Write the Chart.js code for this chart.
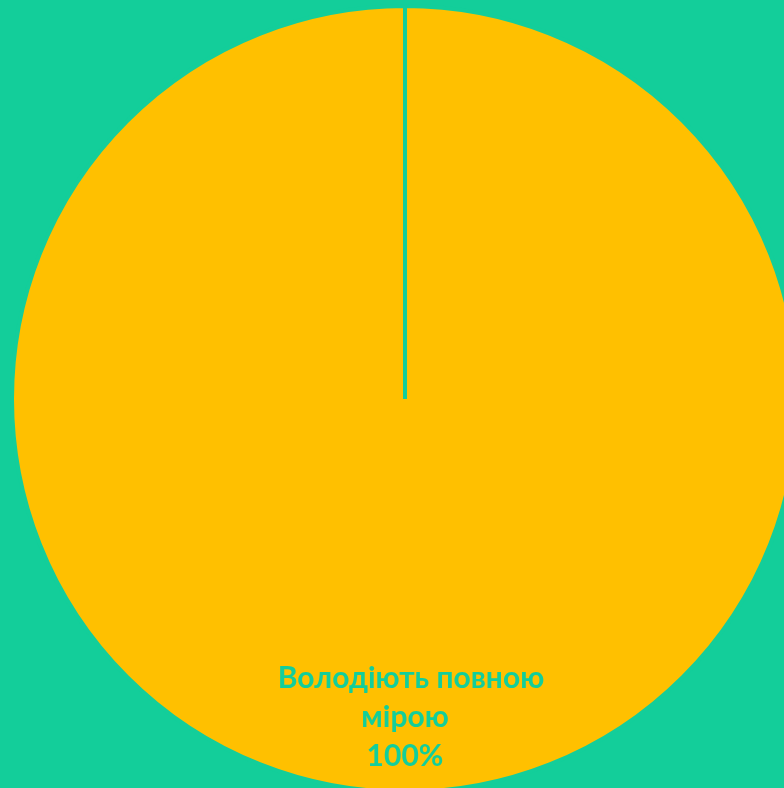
<!DOCTYPE html>
<html>
<head>
<meta charset="utf-8">
<script src="https://cdn.jsdelivr.net/npm/chart.js@4"></script>
<style>
  html, body { margin: 0; padding: 0; width: 784px; height: 788px; overflow: hidden; background: #13CE9A; }
  #wrap { position: absolute; left: 10px; top: 4px; width: 790px; height: 790px; }
</style>
</head>
<body>
<div id="wrap"><canvas id="pie"></canvas></div>
<script>
// Дані діаграми
const categories = ['Володіють повною мірою'];
const values = [100];
const labelLines = [['Володіють повною', 'мірою', '100%']];

const TEAL = '#13CE9A';
const YELLOW = '#FFC000';

// Підписи всередині сектора
const sliceLabels = {
  id: 'sliceLabels',
  afterDatasetsDraw(chart) {
    const ctx = chart.ctx;
    const meta = chart.getDatasetMeta(0);
    meta.data.forEach((arc, i) => {
      const { x, y, outerRadius } = arc.getProps(['x', 'y', 'outerRadius'], true);
      const lines = labelLines[i];
      const cy = y + outerRadius * 0.81;
      const lh = 39;
      ctx.save();
      ctx.fillStyle = TEAL;
      ctx.font = 'bold 30px Lato, "Liberation Sans", sans-serif';
      ctx.textAlign = 'center';
      ctx.textBaseline = 'middle';
      lines.forEach((t, k) => {
        ctx.fillText(t, x + (k === 0 ? 6 : 0), cy + (k - 1) * lh);
      });
      ctx.restore();
    });
  }
};

new Chart(document.getElementById('pie'), {
  type: 'pie',
  data: {
    labels: categories,
    datasets: [{
      data: values,
      backgroundColor: [YELLOW],
      borderColor: TEAL,
      borderWidth: 4
    }]
  },
  options: {
    responsive: true,
    maintainAspectRatio: false,
    animation: false,
    layout: { padding: 0 },
    plugins: { legend: { display: false }, tooltip: { enabled: false } }
  },
  plugins: [sliceLabels]
});
</script>
</body>
</html>
